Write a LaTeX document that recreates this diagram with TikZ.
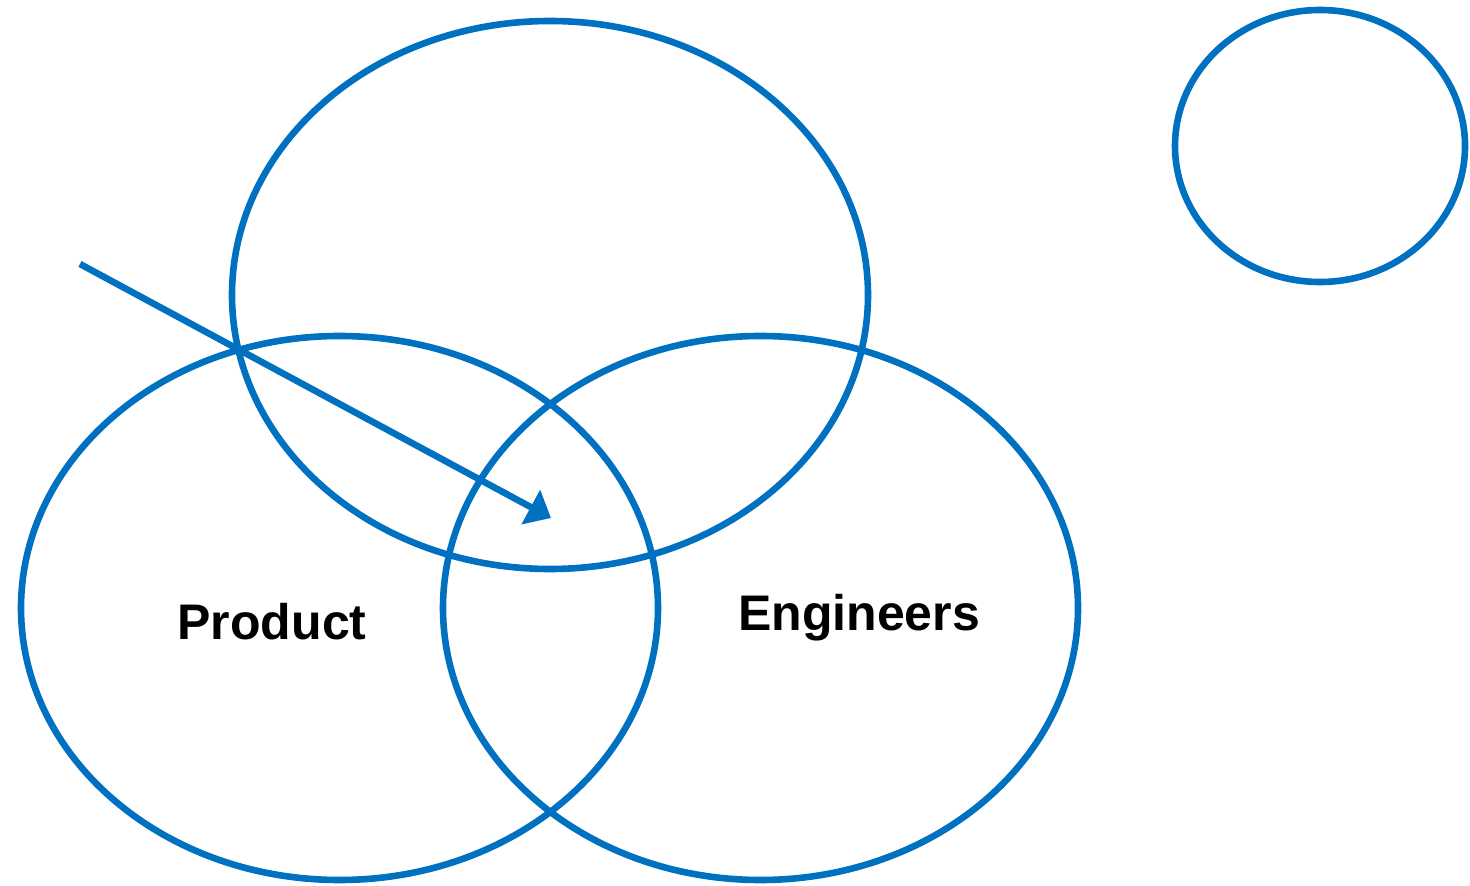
\documentclass[tikz,border=0pt]{standalone}
\usepackage{fontspec}
\setmainfont{Liberation Sans}
\usetikzlibrary{shapes.geometric,arrows.meta}
\definecolor{vennblue}{HTML}{0070C0}
\tikzset{
    set/.style={ellipse, draw=vennblue, line width=3.3pt, inner sep=0pt, outer sep=0pt},
    setlabel/.style={font=\bfseries\fontsize{25}{25}\selectfont, text=black, anchor=base}
}
\begin{document}
\begin{tikzpicture}[x=0.5pt, y=-0.5pt]
        \useasboundingbox (0, 0) rectangle (1470, 886);

        \node[set, minimum width=636pt*0.5, minimum height=548pt*0.5] (top) at (550, 295) {};
        \node[set, minimum width=637pt*0.5, minimum height=544pt*0.5] (product) at (339.5, 608) {};
        \node[set, minimum width=635pt*0.5, minimum height=544pt*0.5] (engineers) at (760.5, 608) {};
        \node[set, minimum width=290pt*0.5, minimum height=272pt*0.5] (extra) at (1320, 146) {};

        \node[setlabel] (productlabel) at (272, 639) {Product};
        \node[setlabel] (engineerslabel) at (859, 630) {Engineers};

        \coordinate (start) at (80, 264);
        \coordinate (tip) at (551, 518);
        \draw [vennblue, line width=3.3pt, -{Triangle[length=11.5pt, width=19pt]}] (start) -- (tip);
    \end{tikzpicture}
\end{document}
